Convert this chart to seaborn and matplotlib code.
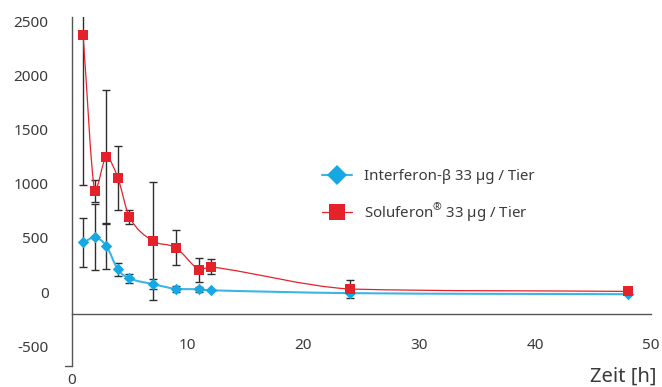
import numpy as np
import pandas as pd
import matplotlib
matplotlib.use("Agg")
import matplotlib.pyplot as plt
import seaborn as sns
from matplotlib.path import Path
from matplotlib.patches import PathPatch
from matplotlib.lines import Line2D

# Sampling times [h]
times = [1, 2, 3, 4, 5, 7, 9, 11, 12, 24, 48]

# Interferon-beta, mean and standard deviation
interferon = [458, 505, 427, 209, 126, 74, 30, 25, 16, -10, -20]
interferon_err = [230, 305, 210, 57, 45, 45, 25, 25, 0, 0, 0]

# Soluferon, mean and standard deviation
soluferon = [2375, 935, 1248, 1054, 692, 473, 409, 206, 233, 28, 6]
soluferon_err = [1390, 100, 620, 295, 65, 545, 160, 110, 70, 80, 0]

label_ifn = "Interferon-β 33 µg / Tier"
label_sol = r"Soluferon$^{\mathrm{®}}$ 33 µg / Tier"
series_names = ["Interferon-β", "Soluferon"]

x_ticks = [10, 20, 30, 40, 50]
y_ticks = [-500, 0, 500, 1000, 1500, 2000, 2500]
x_label = "Zeit [h]"

BLUE = "#16A8E2"
BLUE_LINE = "#3DB4E6"
RED = "#E52129"
TEXT = "#3A3A3A"
AXIS = "#555555"

sns.set_theme(style="white")
plt.rcParams["font.family"] = ["Noto Sans", "DejaVu Sans"]
plt.rcParams["mathtext.fontset"] = "custom"
plt.rcParams["mathtext.rm"] = "Noto Sans"


def smooth_curve(ax, x, y, color, lw, z):
    """Smooth cubic Bezier curve through the points, without overshoot."""
    x = np.asarray(x, float)
    y = np.asarray(y, float)
    n = len(x)
    d = np.diff(y) / np.diff(x)
    m = np.empty(n)
    m[0], m[-1] = d[0], d[-1]
    m[1:-1] = (y[2:] - y[:-2]) / (x[2:] - x[:-2])
    verts = [(x[0], y[0])]
    codes = [Path.MOVETO]
    for i in range(n - 1):
        h = x[i + 1] - x[i]
        ma, mb = m[i], m[i + 1]
        # one-sided tangents: flatten where the slope points against the segment
        if ma * d[i] <= 0:
            ma = 0.0
        if mb * d[i] <= 0:
            mb = 0.0
        lim = 3 * abs(d[i])
        ma = np.clip(ma, -lim, lim)
        mb = np.clip(mb, -lim, lim)
        verts += [(x[i] + h / 3, y[i] + ma * h / 3),
                  (x[i + 1] - h / 3, y[i + 1] - mb * h / 3),
                  (x[i + 1], y[i + 1])]
        codes += [Path.CURVE4] * 3
    patch = PathPatch(Path(verts, codes), facecolor="none", edgecolor=color,
                      lw=lw, zorder=z, capstyle="round", joinstyle="round")
    ax.add_patch(patch)


df = pd.DataFrame({
    "Zeit": times * 2,
    "Wert": interferon + soluferon,
    "Serie": [series_names[0]] * len(times) + [series_names[1]] * len(times),
})

fig = plt.figure(figsize=(6.62, 3.87), dpi=100)
W, H = 662, 387
ax = fig.add_axes([71.5 / W, 1 - 366 / H, (651 - 71.5) / W, (366 - 17) / H])
ax.set_xlim(0, 50)
ax.set_ylim(-683, 2540)

# error bars
ax.errorbar(times, interferon, yerr=interferon_err, fmt="none", ecolor="#2E2E2E",
            elinewidth=1.0, capsize=3.2, capthick=1.0, zorder=2)
ax.errorbar(times, soluferon, yerr=soluferon_err, fmt="none", ecolor="#2E2E2E",
            elinewidth=1.0, capsize=3.2, capthick=1.0, zorder=2)

# connecting curves
smooth_curve(ax, times, interferon, BLUE_LINE, 1.5, 3)
smooth_curve(ax, times, soluferon, RED, 0.9, 4)

# markers
sns.scatterplot(data=df[df["Serie"] == series_names[0]], x="Zeit", y="Wert",
                color=BLUE, marker="D", s=34, linewidth=0, ax=ax, zorder=5,
                legend=False)
sns.scatterplot(data=df[df["Serie"] == series_names[1]], x="Zeit", y="Wert",
                color=RED, marker="s", s=46, linewidth=0, ax=ax, zorder=6,
                legend=False)

# axes styling
for side in ["top", "right"]:
    ax.spines[side].set_visible(False)
ax.spines["bottom"].set_position(("data", -203))
for side in ["left", "bottom"]:
    ax.spines[side].set_color(AXIS)
    ax.spines[side].set_linewidth(1.0)

ax.set_xticks(x_ticks)
ax.set_xticklabels([str(v) for v in x_ticks])
ax.set_yticks(y_ticks)
ax.set_yticklabels([str(v) for v in y_ticks])
ax.tick_params(axis="both", which="both", direction="out", length=5, width=1.0,
               color=AXIS, labelsize=11, labelcolor=TEXT)
ax.tick_params(axis="y", pad=11.5)
ax.tick_params(axis="x", pad=12.5)
ax.set_xlabel("")
ax.set_ylabel("")
ax.grid(False)

# end mark at the foot of the value axis
fig.add_artist(Line2D([65 / W, 72 / W], [1 - 366 / H, 1 - 366 / H],
                      color=AXIS, lw=1.0))

fig.text(72 / W, 1 - 381 / H, "0", ha="center", va="center", fontsize=11,
         color=TEXT)
fig.text(657 / W, 1 - 382 / H, x_label, ha="right", va="baseline", fontsize=14.5,
         color=TEXT)

handles = [
    Line2D([], [], color=BLUE_LINE, lw=1.5, marker="D", markersize=10,
           markerfacecolor=BLUE, markeredgewidth=0),
    Line2D([], [], color=RED, lw=0.9, marker="s", markersize=11.5,
           markerfacecolor=RED, markeredgewidth=0),
]
leg = fig.legend(handles, [label_ifn, label_sol], loc="upper left",
                 bbox_to_anchor=(322 / W, 1 - 169 / H), frameon=False,
                 fontsize=10.8, handlelength=2.0, handletextpad=0.8,
                 labelspacing=1.15, borderpad=0, borderaxespad=0)
for t in leg.get_texts():
    t.set_color(TEXT)

fig.savefig("out.png", dpi=100, facecolor="white")
